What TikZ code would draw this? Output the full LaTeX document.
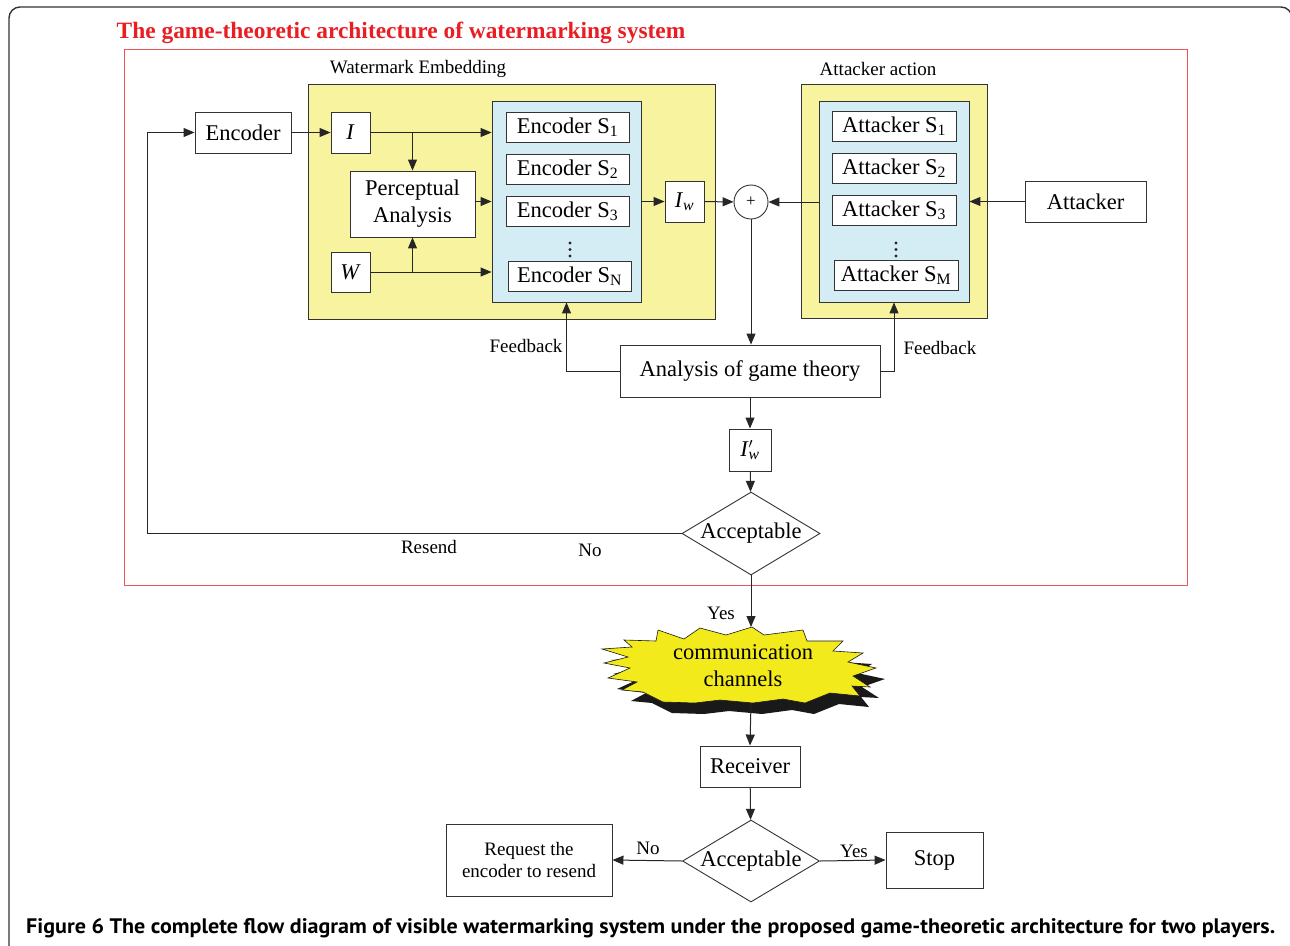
\documentclass[tikz,border=0pt]{standalone}
\usepackage{fontspec}
\setmainfont{Liberation Serif}
\newfontfamily\capfont{PT Sans}
\usetikzlibrary{arrows.meta,shapes.geometric,calc}
\definecolor{wmyellow}{RGB}{247,243,158}
\definecolor{wmblue}{RGB}{212,236,243}
\definecolor{staryellow}{RGB}{242,234,26}
\definecolor{titlered}{RGB}{232,30,36}
\definecolor{framered}{RGB}{235,85,85}
\newcommand\mysub[1]{\textsubscript{#1}}
\newcommand\starpoly[1]{\path[#1] (602,649) -- (632,647) -- (624,640) -- (656,641) -- (658,630) -- (684,639) -- (700,628) -- (726,635) -- (752,627) -- (764,635) -- (803,630) -- (807,641) -- (843,641) -- (833,651) -- (863,653) -- (848,662) -- (876,668) -- (853,676) -- (870,687) -- (852,686) -- (860,696) -- (830,693) -- (805,703) -- (783,699) -- (753,703) -- (720,700) -- (695,703) -- (663,702) -- (643,692) -- (622,690) -- (637,682) -- (608,678) -- (630,668) -- (604,663) -- (628,657) -- cycle;}
\begin{document}
\begin{tikzpicture}[x=1pt,y=-1pt,
  big/.style={font=\fontsize{22.5}{27}\selectfont},
  lab/.style={font=\fontsize{19}{22.5}\selectfont},
  box/.style={draw=black!80, line width=0.9pt, fill=white, inner sep=0pt, big, align=center},
  panel/.style={draw=black!80, line width=0.9pt, inner sep=0pt},
  arr/.style={draw=black!85, line width=1pt, -{Triangle[length=11pt,width=9pt]}},
  ln/.style={draw=black!85, line width=1pt},
  dec/.style={box, shape=diamond, aspect=1.66, minimum width=138pt, minimum height=83pt},
]
\useasboundingbox (0,0) rectangle (1290,945);
\begin{scope}
\clip (0,0) rectangle (1290,945);
\draw[line width=1.4pt, black!80, rounded corners=11pt] (9,7) rectangle (1292,965);
\end{scope}

% title and red frame
\node[text=titlered, font=\fontsize{23.4}{26}\selectfont\bfseries] (title) at (401,33)
  {The game-theoretic architecture of watermarking system};
\node[draw=framered, line width=0.9pt, minimum width=1063pt, minimum height=536pt, inner sep=0pt] (frame) at (655.5,317) {};

% panels
\node[panel, fill=wmyellow, minimum width=407pt, minimum height=235pt] (weY) at (511.5,201.5) {};
\node[panel, fill=wmblue, minimum width=149pt, minimum height=201pt] (weB) at (566.5,201.5) {};
\node[panel, fill=wmyellow, minimum width=186pt, minimum height=234pt] (aaY) at (894,201) {};
\node[panel, fill=wmblue, minimum width=150pt, minimum height=201pt] (aaB) at (894,201.5) {};
\node[lab] (weL) at (418,69) {Watermark Embedding};
\node[lab] (aaL) at (878,69) {Attacker action};

% encoder strategies
\node[box, minimum width=123pt, minimum height=30pt] (es1) at (567.5,127) {Encoder S\mysub{1}};
\node[box, minimum width=123pt, minimum height=30pt] (es2) at (567.5,169) {Encoder S\mysub{2}};
\node[box, minimum width=123pt, minimum height=30pt] (es3) at (567.5,211) {Encoder S\mysub{3}};
\node[box, minimum width=123pt, minimum height=30pt] (esN) at (569.5,276) {Encoder S\mysub{N}};
\foreach \yy in {243,249.5,256} \fill[black!85] (570,\yy) circle (1.7);

% attacker strategies
\node[box, minimum width=124pt, minimum height=30pt] (as1) at (894,126) {Attacker S\mysub{1}};
\node[box, minimum width=124pt, minimum height=30pt] (as2) at (894,168) {Attacker S\mysub{2}};
\node[box, minimum width=124pt, minimum height=30pt] (as3) at (894,210) {Attacker S\mysub{3}};
\node[box, minimum width=124pt, minimum height=30pt] (asM) at (896,275) {Attacker S\mysub{M}};
\foreach \yy in {243,249.5,256} \fill[black!85] (896,\yy) circle (1.7);

% other blocks
\node[box, minimum width=96pt, minimum height=41pt] (enc) at (243,132.5) {Encoder};
\node[box, minimum width=39pt, minimum height=41pt] (I) at (350.5,132.5) {\textit{I}};
\node[box, minimum width=125pt, minimum height=66pt] (pa) at (412.5,204) {Perceptual\\Analysis};
\node[box, minimum width=39pt, minimum height=40pt] (W) at (350.5,272) {\textit{W}};
\node[box, minimum width=39pt, minimum height=41pt] (Iw) at (684.5,201.5) {\textit{I}\mysub{\textit{w}}};
\node[box, shape=circle, minimum size=34pt, font=\fontsize{17}{20}\selectfont] (plus) at (751,202) {+};
\node[box, minimum width=121pt, minimum height=41pt] (att) at (1085.5,201.5) {Attacker};
\node[box, minimum width=260pt, minimum height=52pt] (agt) at (750,371) {Analysis of game theory};
\node[box, minimum width=42pt, minimum height=42pt] (Ipw) at (750,450) {\textit{I}\rlap{$'$}\mysub{\textit{w}}};
\node[dec] (acc1) at (751,533.5) {Acceptable};

% communication channel starburst
\starpoly{fill=black!90, shift={(9,11)}}
\starpoly{fill=staryellow, draw=black!90, line width=0.6pt}
\node[big, align=center] (stxt) at (743,666) {communication\\channels};
\coordinate (starTop) at (751,627);
\coordinate (starBot) at (751,703);

\node[box, minimum width=100pt, minimum height=41pt] (rec) at (750,766.5) {Receiver};
\node[dec, minimum width=137pt, minimum height=82pt] (acc2) at (751,861) {Acceptable};
\node[box, lab, minimum width=166pt, minimum height=72pt] (req) at (529,860) {Request the\\encoder to resend};
\node[box, minimum width=97pt, minimum height=56pt] (stop) at (934.5,860) {Stop};

% connectors
\draw[arr] (enc) -- (I);
\draw[arr] (I) -- (I -| weB.west);
\draw[arr] (I -| pa.north) -- (pa.north);
\draw[arr] (W) -- (W -| weB.west);
\draw[arr] (W -| pa.south) -- (pa.south);
\draw[arr] (pa.east |- weB) -- (weB.west);
\draw[arr] (weB.east |- Iw) -- (Iw);
\draw[arr] (Iw) -- (plus);
\draw[arr] (aaB.west |- plus) -- (plus);
\draw[arr] (att) -- (att -| aaB.east);
\draw[arr] (plus) -- (plus |- agt.north);
\draw[arr] (agt.west) -| (weB.south);
\draw[arr] (agt.east) -| (aaB.south);
\draw[arr] (agt) -- (Ipw);
\draw[arr] (Ipw) -- (acc1);
\coordinate (rl) at (147,533.5);
\draw[arr] (acc1.west) -- (rl) |- (enc.west);
\draw[arr] (acc1.south) -- (starTop);
\draw[arr] (starBot) -- (rec.north);
\draw[arr] (rec) -- (acc2);
\draw[arr] (acc2.west) -- (req.east);
\draw[arr] (acc2.east) -- (stop.west);

% labels
\node[lab, anchor=east] (fb1) at (566,346) {Feedback};
\node[lab, anchor=west] (fb2) at (900,348) {Feedback};
\node[lab] (resend) at (429,547) {Resend};
\node[lab] (no1) at (590,550) {No};
\node[lab] (yes1) at (721,613) {Yes};
\node[lab] (no2) at (648,848) {No};
\node[lab] (yes2) at (854,851) {Yes};

% caption
\node[font=\capfont\bfseries\fontsize{21}{24}\selectfont, anchor=west, inner sep=0pt] (cap) at (26,928)
  {\resizebox{1249pt}{\height}{Figure 6 The complete flow diagram of visible watermarking system under the proposed game-theoretic architecture for two players.}};
\end{tikzpicture}
\end{document}
